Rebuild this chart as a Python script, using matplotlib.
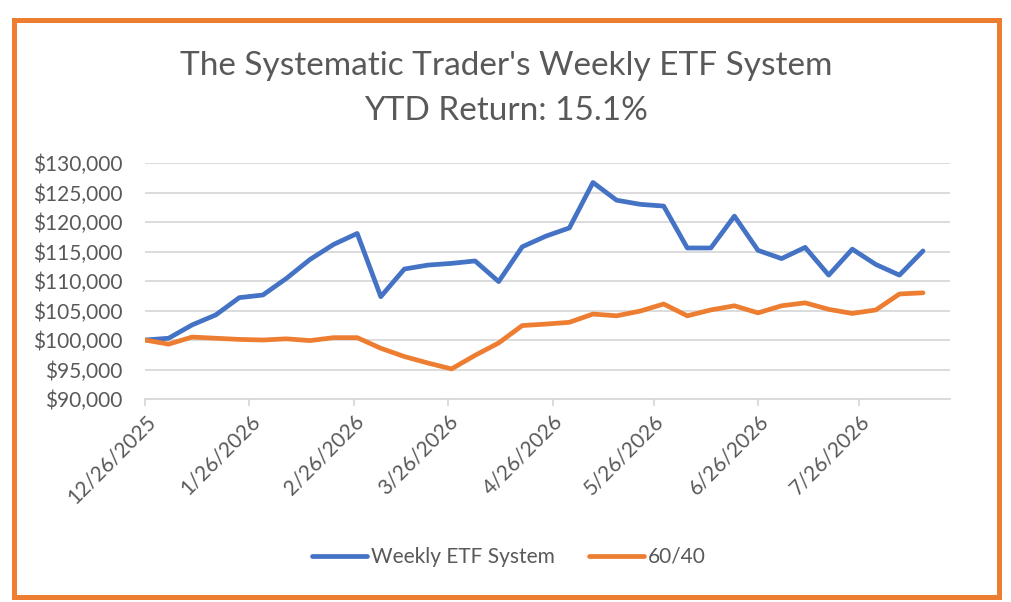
import matplotlib
matplotlib.use("Agg")
import matplotlib.pyplot as plt
from matplotlib.patches import Rectangle
from matplotlib.ticker import FuncFormatter
import pandas as pd

# weekly closes, starting 12/26/2025
dates = pd.date_range("2025-12-26", periods=34, freq="7D")

etf_system = [100000, 100300, 102560, 104250, 107180, 107630, 110450, 113660,
              116200, 118060, 107350, 112030, 112700, 112990, 113400, 109900,
              115800, 117600, 119000, 126700, 123700, 123000, 122700, 115600,
              115600, 121000, 115200, 113800, 115700, 111000, 115400, 112800,
              111000, 115100]

sixty_forty = [100000, 99300, 100500, 100300, 100100, 100000, 100200, 99900,
               100400, 100400, 98600, 97200, 96100, 95100, 97400, 99500,
               102450, 102700, 103000, 104400, 104100, 104900, 106100, 104100,
               105100, 105800, 104600, 105800, 106300, 105200, 104500, 105100,
               107800, 108000]

tick_dates = pd.to_datetime(["2025-12-26", "2026-01-26", "2026-02-26", "2026-03-26",
                             "2026-04-26", "2026-05-26", "2026-06-26", "2026-07-26"])
y_ticks = [90000, 95000, 100000, 105000, 110000, 115000, 120000, 125000, 130000]

title_1 = "The Systematic Trader's Weekly ETF System"
title_2 = "YTD Return: 15.1%"

BLUE = "#4472C4"
ORANGE = "#ED7D31"
GREY_TXT = "#595959"
GRID = "#D9D9D9"

plt.rcParams["font.family"] = ["Lato", "DejaVu Sans"]

fig = plt.figure(figsize=(10.12, 6.02), dpi=100)
ax = fig.add_axes([0.1433, 0.3372, 0.7954, 0.3920])

ax.plot(dates, etf_system, color=BLUE, lw=3.4, solid_capstyle="round",
        solid_joinstyle="round", label="Weekly ETF System")
ax.plot(dates, sixty_forty, color=ORANGE, lw=3.4, solid_capstyle="round",
        solid_joinstyle="round", label="60/40")

ax.set_ylim(90000, 130000)
ax.set_xlim(tick_dates[0], pd.Timestamp("2026-08-22"))
ax.set_yticks(y_ticks)
ax.yaxis.set_major_formatter(FuncFormatter(lambda v, p: "${:,.0f}".format(v)))
ax.set_xticks(tick_dates)
ax.set_xticklabels([f"{d.month}/{d.day}/{d.year}" for d in tick_dates],
                   rotation=45, ha="right", rotation_mode="anchor")

ax.grid(axis="y", color=GRID, lw=1.3)
ax.set_axisbelow(True)
for s in ["top", "right", "left"]:
    ax.spines[s].set_visible(False)
ax.spines["bottom"].set_color(GRID)
ax.spines["bottom"].set_linewidth(1.3)
ax.tick_params(axis="y", length=0, pad=16.5, labelsize=15, labelcolor=GREY_TXT)
ax.tick_params(axis="x", length=5, width=1.3, color=GRID, pad=4,
               labelsize=15, labelcolor=GREY_TXT)

fig.text(0.5, 0.8754, title_1, ha="center", va="baseline", fontsize=24,
         color=GREY_TXT)
fig.text(0.5, 0.8007, title_2, ha="center", va="baseline", fontsize=24,
         color=GREY_TXT)

fig.legend(loc="center", bbox_to_anchor=(0.503, 0.0748), ncol=2, frameon=False,
           fontsize=15, labelcolor=GREY_TXT, handlelength=2.65,
           handletextpad=0.2, columnspacing=1.6)

fig.patches.append(Rectangle((0.0143, 0.0091), 0.9733, 0.9585, transform=fig.transFigure,
                             fill=False, edgecolor=ORANGE, lw=3.6, figure=fig))

fig.savefig("out.png", dpi=100, facecolor="white")
